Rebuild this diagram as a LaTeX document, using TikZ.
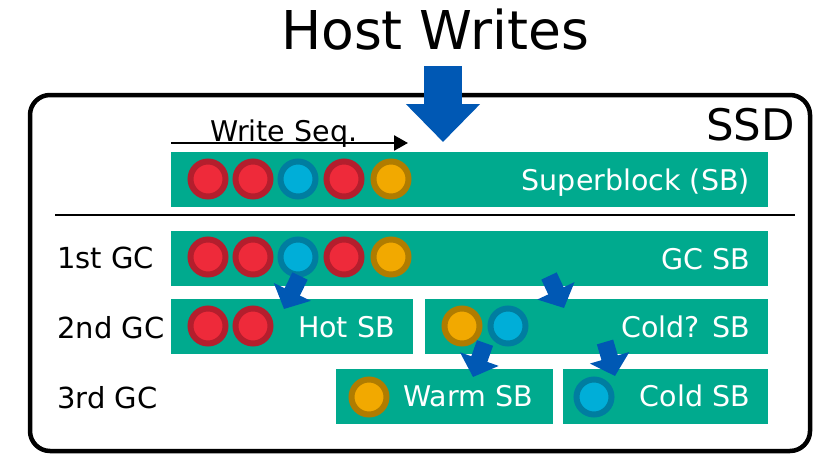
\documentclass[tikz,border=0pt]{standalone}
\usepackage{fontspec}
\setmainfont{DejaVu Sans}
\usetikzlibrary{arrows.meta}
\definecolor{sbgreen}{RGB}{0,170,142}
\definecolor{hotfill}{RGB}{238,42,58}
\definecolor{hotline}{RGB}{180,30,45}
\definecolor{coldfill}{RGB}{0,174,216}
\definecolor{coldline}{RGB}{0,125,160}
\definecolor{warmfill}{RGB}{242,169,0}
\definecolor{warmline}{RGB}{176,124,0}
\definecolor{flowblue}{RGB}{0,88,180}
\begin{document}
\begin{tikzpicture}[x=1pt,y=-1pt,
  bar/.style={fill=sbgreen, draw=none, anchor=north west, inner sep=0pt, minimum height=55pt},
  bartext/.style={anchor=base east, inner sep=0pt, text=white, font=\fontsize{28.5}{34}\selectfont},
  rowlabel/.style={anchor=base west, inner sep=0pt, font=\fontsize{29}{34}\selectfont},
  dot/.style={circle, minimum size=35pt, inner sep=0pt, line width=6pt},
  hotdot/.style={dot, fill=hotfill, draw=hotline},
  colddot/.style={dot, fill=coldfill, draw=coldline},
  warmdot/.style={dot, fill=warmfill, draw=warmline},
  flow/.style={draw=flowblue, line width=17pt, line cap=butt, -{Triangle[length=19pt,width=40pt]}},
  bigflow/.style={draw=flowblue, line width=38pt, line cap=butt, -{Triangle[length=38pt,width=72pt]}}]
\useasboundingbox (0,0) rectangle (818,455);

% SSD enclosure
\draw[line width=4.5pt, rounded corners=20pt] (30,95) rectangle (810,451);
\node[anchor=base east, inner sep=0pt, font=\fontsize{43.5}{50}\selectfont] (ssd) at (795,140) {SSD};

% host write stream
\node[anchor=base, inner sep=0pt, font=\fontsize{53.5}{60}\selectfont] (host) at (435,49) {Host Writes};
\coordinate (hostin) at (443,66);
\coordinate (hostout) at (443,142);
\draw[bigflow] (hostin) -- (hostout);

% write order
\node[anchor=base west, inner sep=0pt, font=\fontsize{28.5}{34}\selectfont] (seq) at (210,141) {Write Seq.};
\coordinate (seqstart) at (171,143);
\coordinate (seqend) at (408,143);
\draw[line width=2.6pt, -{Triangle[length=14pt,width=15pt]}] (seqstart) -- (seqend);

% incoming superblock
\node[bar, minimum width=597pt] (sb) at (171,152) {};
\node[bartext] (sbtext) at (750,190) {Superblock (SB)};
\node[hotdot] (s1) at (208,179) {};
\node[hotdot] (s2) at (253,179) {};
\node[colddot] (s3) at (298,179) {};
\node[hotdot] (s4) at (344,179) {};
\node[warmdot] (s5) at (391,179) {};

% separator
\coordinate (sepl) at (55,215);
\coordinate (sepr) at (795,215);
\draw[line width=1.5pt] (sepl) -- (sepr);

% row labels
\node[rowlabel] (gc1) at (57,268) {1st GC};
\node[rowlabel] (gc2) at (57,338) {2nd GC};
\node[rowlabel] (gc3) at (57,408) {3rd GC};

% 1st GC
\node[bar, minimum width=597pt] (gcsb) at (171,231) {};
\node[bartext] (gctext) at (750,269) {GC SB};
\node[hotdot] (g1) at (208,257) {};
\node[hotdot] (g2) at (253,257) {};
\node[colddot] (g3) at (298,257) {};
\node[hotdot] (g4) at (344,257) {};
\node[warmdot] (g5) at (391,257) {};

% 2nd GC
\node[bar, minimum width=242pt] (hot) at (171,299) {};
\node[bartext] (hottext) at (395,337) {Hot SB};
\node[hotdot] (h1) at (208,326) {};
\node[hotdot] (h2) at (253,326) {};

\node[bar, minimum width=343pt] (cq) at (425,299) {};
\node[bartext] (cqtext) at (750,337) {Cold? SB};
\node[warmdot] (q1) at (462,326) {};
\node[colddot] (q2) at (508,326) {};

% 3rd GC
\node[bar, minimum width=217pt] (warm) at (336,369) {};
\node[bartext] (warmtext) at (533,406) {Warm SB};
\node[warmdot] (w1) at (369,397) {};

\node[bar, minimum width=205pt] (cold) at (563,369) {};
\node[bartext] (coldtext) at (750,406) {Cold SB};
\node[colddot] (c1) at (594,397) {};

% GC flows
\coordinate (f1s) at (300,276);
\coordinate (f1e) at (284,309);
\coordinate (f2s) at (549,276);
\coordinate (f2e) at (564,308);
\coordinate (f3s) at (485,343);
\coordinate (f3e) at (473,377);
\coordinate (f4s) at (605,342);
\coordinate (f4e) at (615,376);
\draw[flow] (f1s) -- (f1e);
\draw[flow] (f2s) -- (f2e);
\draw[flow] (f3s) -- (f3e);
\draw[flow] (f4s) -- (f4e);
\end{tikzpicture}
\end{document}
